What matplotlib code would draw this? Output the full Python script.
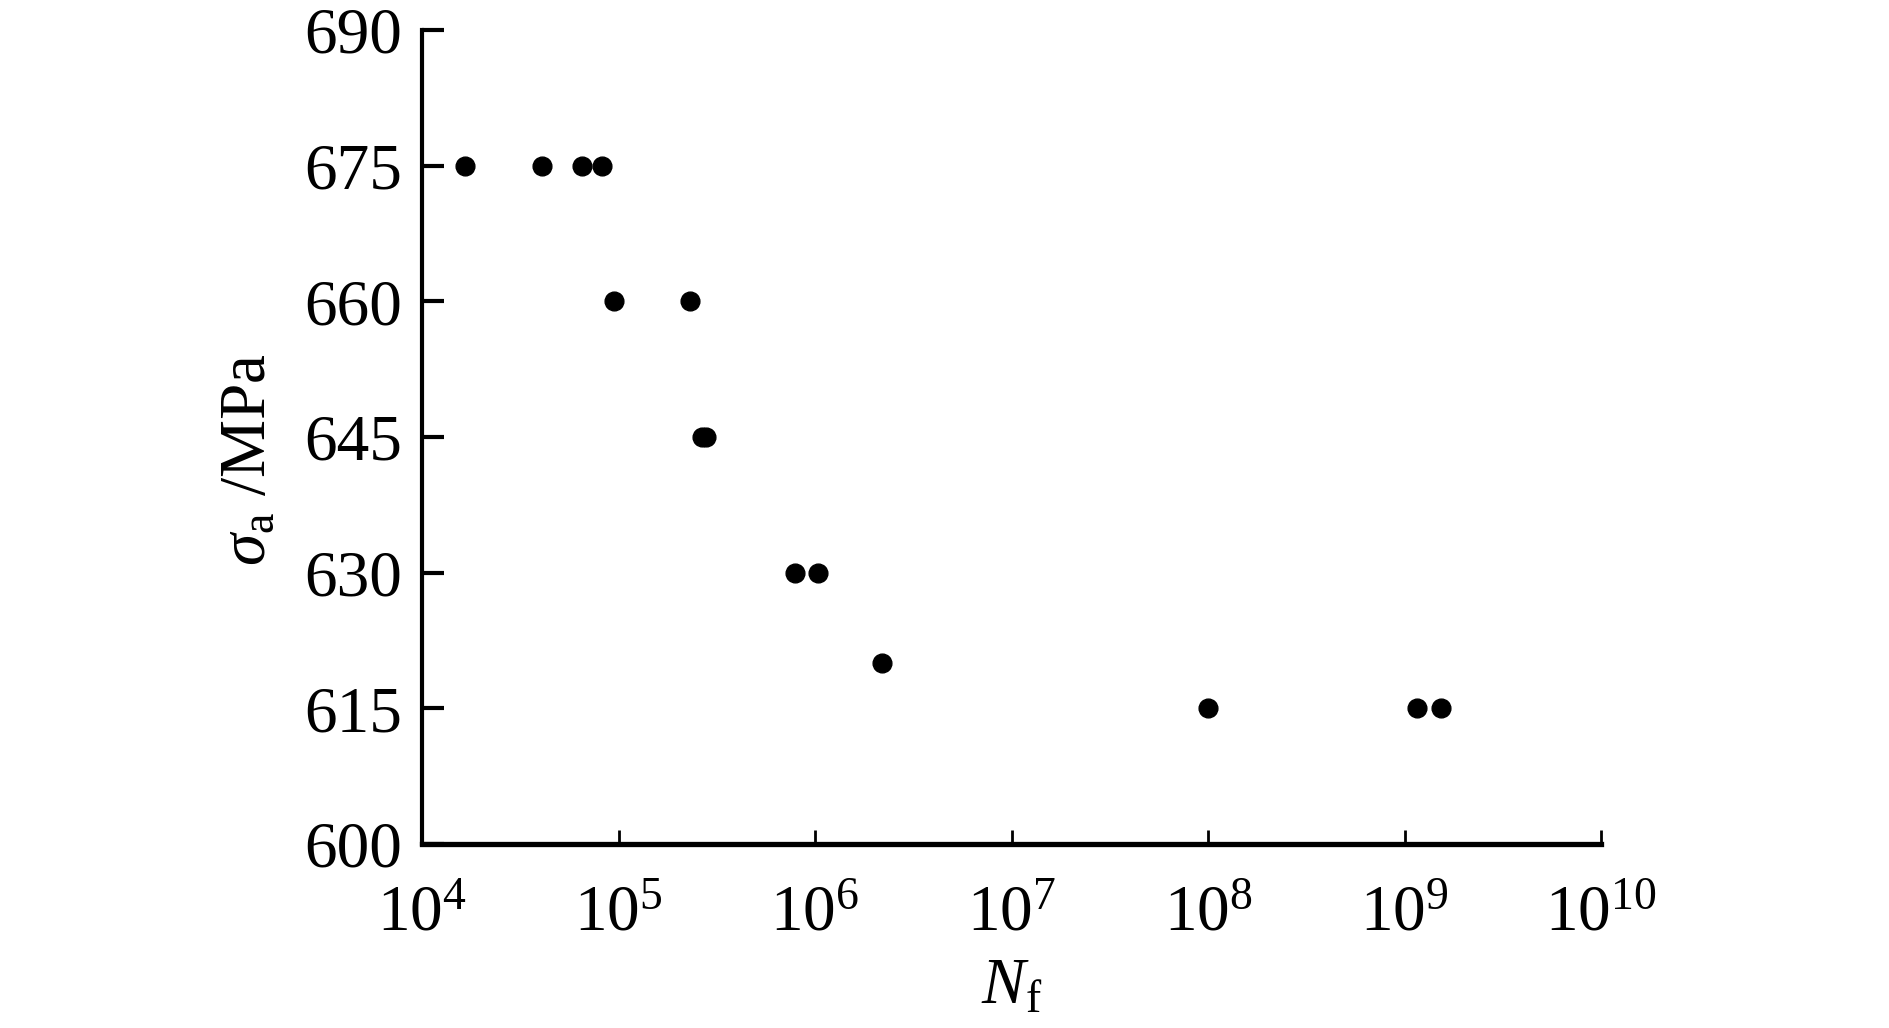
import numpy as np
import matplotlib
matplotlib.use('Agg')
import matplotlib.pyplot as plt
from matplotlib import font_manager
from matplotlib.ticker import LogFormatterMathtext, FixedLocator, NullLocator

# fatigue data
cycles = [1.65e4, 4.1e4, 6.5e4, 8.2e4,
          9.5e4, 2.3e5,
          2.65e5, 2.8e5,
          7.9e5, 1.04e6,
          2.2e6,
          1.0e8, 1.16e9, 1.53e9]
stress = [675, 675, 675, 675,
          660, 660,
          645, 645,
          630, 630,
          620,
          615, 615, 615]

y_ticks = [600, 615, 630, 645, 660, 675, 690]
x_ticks = [1e4, 1e5, 1e6, 1e7, 1e8, 1e9, 1e10]

# pick a Times-like serif that is really installed
serif = 'DejaVu Serif'
for name in ['Liberation Serif', 'Times New Roman', 'Nimbus Roman']:
	try:
		font_manager.findfont(font_manager.FontProperties(family=name), fallback_to_default=False)
		serif = name
		break
	except Exception:
		pass

plt.rcParams['font.family'] = [serif, 'DejaVu Serif']
plt.rcParams['mathtext.fontset'] = 'custom'
plt.rcParams['mathtext.rm'] = serif
plt.rcParams['mathtext.it'] = serif + ':italic'
plt.rcParams['mathtext.bf'] = serif + ':bold'

def main():
	fig = plt.figure(figsize=(18.9, 10.28), dpi=100)
	ax = fig.add_axes([0.2233, 0.179, 0.6238, 0.7918])
	ax.plot(cycles, stress, 'o', color='black', markersize=13.5, clip_on=False)
	ax.set_xscale('log')
	ax.set_xlim(1e4, 1e10)
	ax.set_ylim(600, 690)
	ax.xaxis.set_major_locator(FixedLocator(x_ticks))
	ax.xaxis.set_minor_locator(NullLocator())
	ax.xaxis.set_major_formatter(LogFormatterMathtext())
	ax.set_yticks(y_ticks)

	ax.spines['top'].set_visible(False)
	ax.spines['right'].set_visible(False)
	ax.spines['left'].set_linewidth(3)
	ax.spines['bottom'].set_linewidth(3.8)
	ax.tick_params(axis='y', direction='in', length=16, width=3, labelsize=47, pad=14)
	ax.tick_params(axis='x', direction='in', length=10, width=2, labelsize=47, pad=29)

	ax.set_xlabel(r'$N_{\rm f}$', fontsize=47, labelpad=10)
	ax.set_ylabel(r'$\sigma_{\rm a}$ /MPa', fontsize=47)
	ax.yaxis.set_label_coords(-0.121, 0.472)

	fig.savefig('out.png', dpi=100)

if __name__ == '__main__' :
	main()
